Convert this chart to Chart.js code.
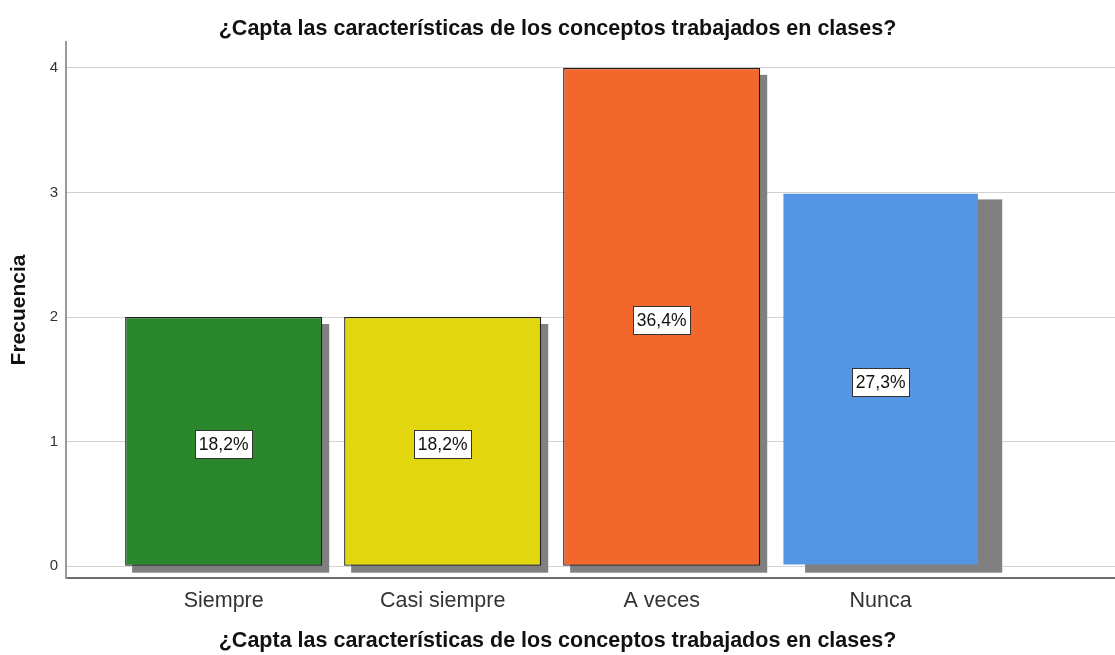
<!DOCTYPE html>
<html>
<head>
<meta charset="utf-8">
<script src="https://cdn.jsdelivr.net/npm/chart.js@4.4.1/dist/chart.umd.min.js"></script>
<style>
  html, body { margin: 0; padding: 0; background: #fff; }
  #wrap { width: 1115px; height: 655px; }
</style>
</head>
<body>
<div id="wrap"><canvas id="myChart"></canvas></div>
<script>
const categories = ['Siempre', 'Casi siempre', 'A veces', 'Nunca'];
const counts = [2, 2, 4, 3];
const pctLabels = ['18,2%', '18,2%', '36,4%', '27,3%'];
const yTicks = [0, 1, 2, 3, 4];

const questionText = '¿Capta las características de los conceptos trabajados en clases?';
const barColors = ['#2a872c', '#e2d60f', '#f2672c', '#5495e4'];
const barBorders = ['#1f1f1f', '#1f1f1f', '#1f1f1f', 'rgba(0,0,0,0)'];
const shadowOffsets = [[7, 7], [7, 7], [7, 7], [23, 7]];
const FONT = "'Liberation Sans', Arial, sans-serif";

// gray drop shadow behind each bar
const shadowPlugin = {
  id: 'shadows',
  beforeDatasetsDraw(chart) {
    const ctx = chart.ctx;
    const meta = chart.getDatasetMeta(0);
    ctx.save();
    ctx.fillStyle = '#808080';
    meta.data.forEach((bar, i) => {
      const p = bar.getProps(['x', 'y', 'base', 'width'], true);
      const [dx, dy] = shadowOffsets[i];
      ctx.fillRect(p.x - p.width / 2 + dx, p.y + dy, p.width, p.base - p.y);
    });
    ctx.restore();
  }
};

// boxed percentage in the middle of each bar
const pctPlugin = {
  id: 'pct',
  afterDatasetsDraw(chart) {
    const ctx = chart.ctx;
    const meta = chart.getDatasetMeta(0);
    ctx.save();
    ctx.font = '17.5px ' + FONT;
    ctx.textAlign = 'center';
    ctx.textBaseline = 'middle';
    meta.data.forEach((bar, i) => {
      const p = bar.getProps(['x', 'y', 'base'], true);
      const cy = (p.y + p.base) / 2 + 3;
      const w = Math.round(ctx.measureText(pctLabels[i]).width + 7);
      const h = 28;
      const bx = Math.round(p.x - w / 2) + 0.5, by = Math.round(cy - h / 2) + 0.5;
      ctx.fillStyle = '#fff';
      ctx.fillRect(bx, by, w, h);
      ctx.strokeStyle = '#333';
      ctx.lineWidth = 1;
      ctx.strokeRect(bx, by, w, h);
      ctx.fillStyle = '#111';
      ctx.fillText(pctLabels[i], p.x, cy + 1);
    });
    ctx.restore();
  }
};

const ctx = document.getElementById('myChart');

new Chart(ctx, {
  type: 'bar',
  data: {
    datasets: [{
      data: counts.map((v, i) => ({ x: i, y: v })),
      backgroundColor: barColors,
      borderColor: barBorders,
      borderWidth: 1.3,
      borderSkipped: false,
      categoryPercentage: 1,
      barPercentage: 0.9
    }]
  },
  options: {
    responsive: true,
    maintainAspectRatio: false,
    animation: false,
    layout: { padding: 0 },
    plugins: {
      legend: { display: false },
      tooltip: { enabled: false },
      title: {
        display: true,
        text: questionText,
        color: '#111',
        font: { family: FONT, size: 21.5, weight: 'bold' },
        padding: { top: 16, bottom: 0 }
      },
      subtitle: {
        display: true,
        position: 'bottom',
        text: questionText,
        color: '#111',
        font: { family: FONT, size: 21.5, weight: 'bold' },
        padding: { top: 5, bottom: 1 }
      }
    },
    scales: {
      x: {
        type: 'linear',
        offset: false,
        min: -0.72,
        max: 4.07,
        afterBuildTicks: s => { s.ticks = categories.map((c, i) => ({ value: i })); },
        afterFit: s => { s.height = 45; },
        grid: { display: false, drawTicks: false },
        border: { display: true, color: '#6e6e6e', width: 2 },
        ticks: {
          color: '#333',
          padding: 10,
          maxRotation: 0,
          autoSkip: false,
          font: { family: FONT, size: 21.5 },
          callback: v => categories[v]
        }
      },
      y: {
        min: -0.0964,
        max: 4.209,
        afterBuildTicks: s => { s.ticks = yTicks.map(v => ({ value: v })); },
        afterFit: s => { s.width = 66; },
        grid: { color: '#d2d2d2', drawTicks: false },
        border: { display: true, color: '#9a9a9a', width: 2 },
        ticks: {
          color: '#333',
          padding: 8,
          font: { family: FONT, size: 15 }
        },
        title: {
          display: true,
          text: 'Frecuencia',
          color: '#111',
          font: { family: FONT, size: 21, weight: 'bold' },
          padding: { top: 7, bottom: 0 }
        }
      }
    }
  },
  plugins: [shadowPlugin, pctPlugin]
});
</script>
</body>
</html>
